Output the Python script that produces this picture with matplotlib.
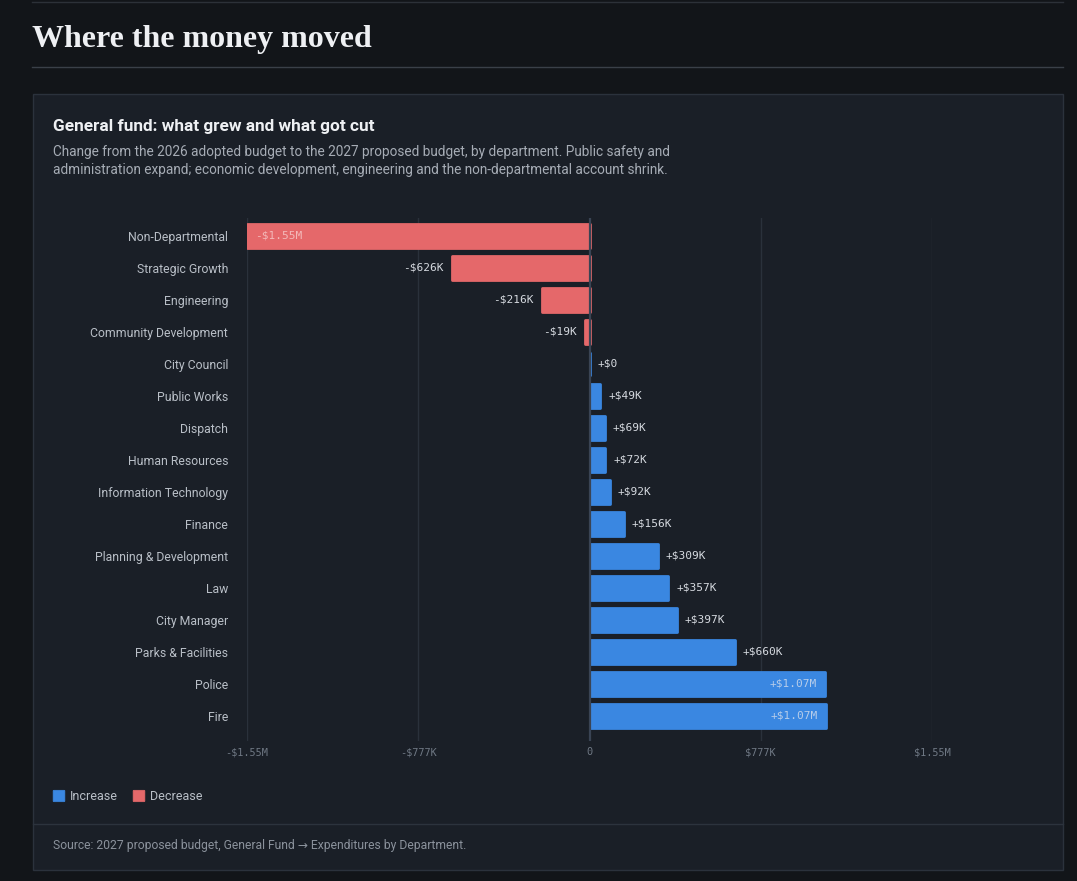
import matplotlib
matplotlib.use("Agg")
import matplotlib.pyplot as plt
from matplotlib.patches import FancyBboxPatch, Rectangle
from matplotlib.lines import Line2D

# ---------------- data ----------------
departments = [
    "Non-Departmental", "Strategic Growth", "Engineering", "Community Development",
    "City Council", "Public Works", "Dispatch", "Human Resources",
    "Information Technology", "Finance", "Planning & Development", "Law",
    "City Manager", "Parks & Facilities", "Police", "Fire",
]
changes = [
    -1554000, -626000, -216000, -19000,
    0, 49000, 69000, 72000,
    92000, 156000, 309000, 357000,
    397000, 660000, 1068000, 1072000,
]
value_labels = [
    "-$1.55M", "-$626K", "-$216K", "-$19K",
    "+$0", "+$49K", "+$69K", "+$72K",
    "+$92K", "+$156K", "+$309K", "+$357K",
    "+$397K", "+$660K", "+$1.07M", "+$1.07M",
]
tick_values = [-1554000, -777000, 0, 777000, 1554000]
tick_labels = ["-$1.55M", "-$777K", "0", "$777K", "$1.55M"]
legend_labels = ["Increase", "Decrease"]

# ---------------- style ----------------
W, H = 1077, 881
PAGE_BG = "#121519"
CARD_BG = "#1a1f27"
CARD_EDGE = "#2b323c"
BLUE = "#3a87e1"
RED = "#e5686a"
GRID = "#2a313b"
ZERO = "#3a4454"
SANS = ["Roboto", "DejaVu Sans"]
MONO = ["DejaVu Sans Mono"]

fig = plt.figure(figsize=(W / 100, H / 100), dpi=100)
fig.patch.set_facecolor(PAGE_BG)


def fx(px):
    return px / W


def fy(py):
    return 1 - py / H


# top rule and title rule
fig.add_artist(Line2D([fx(32), fx(1063)], [fy(1.5), fy(1.5)], color="#2c3138", lw=1, zorder=-2))
fig.text(fx(32), fy(47), "Where the money moved", family=["Liberation Serif"],
         fontweight="bold", fontsize=23, color="#eef0f3", va="baseline", ha="left")
fig.add_artist(Line2D([fx(32), fx(1063)], [fy(67), fy(67)], color="#3a4048", lw=1, zorder=-2))

# card
card = Rectangle((fx(32.5), fy(870)), fx(1063) - fx(32.5), fy(94.5) - fy(870),
                 transform=fig.transFigure, facecolor=CARD_BG, edgecolor=CARD_EDGE, lw=1,
                 zorder=-5)
fig.add_artist(card)

fig.text(fx(53), fy(126), "General fund: what grew and what got cut", family=SANS,
         fontweight="bold", fontsize=12.4, color="#eef0f3", va="center", ha="left")
fig.text(fx(53), fy(152), "Change from the 2026 adopted budget to the 2027 proposed budget, by department. Public safety and",
         family=SANS, fontsize=9.85, color="#a6acb5", va="center", ha="left")
fig.text(fx(53), fy(170), "administration expand; economic development, engineering and the non-departmental account shrink.",
         family=SANS, fontsize=9.85, color="#a6acb5", va="center", ha="left")

# ---------------- axes ----------------
ax_left, ax_right, ax_top, ax_bot = 247, 932, 218, 741
ax = fig.add_axes([fx(ax_left), fy(ax_bot), fx(ax_right) - fx(ax_left), fy(ax_top) - fy(ax_bot)])
ax.set_facecolor("none")
n = len(departments)
ypos = list(range(n))
ax.set_xlim(-1554000, 1554000)
ax.set_ylim(n - 1 + 25 / 32, -18 / 32)

for t in tick_values:
    if t != 0:
        ax.axvline(t, color=GRID, lw=1, zorder=0)

colors = [BLUE if v >= 0 else RED for v in changes]
bars = ax.barh(ypos, changes, height=0.74, color=colors, edgecolor=colors,
               linewidth=2.0, zorder=2)
for b in bars:
    b.set_joinstyle("round")

ax.axvline(0, color=ZERO, lw=1.6, zorder=3)

# value labels
px_per_unit = (ax_right - ax_left) / (2 * 1554000)
off = 8 / px_per_unit
for y, v, lab in zip(ypos, changes, value_labels):
    inside = abs(v) > 0.6 * 1554000
    if v >= 0:
        if inside:
            ax.text(v - off, y, lab, ha="right", va="center", family=MONO, fontsize=8,
                    color="#b7cdea", zorder=4)
        else:
            ax.text(v + off, y, lab, ha="left", va="center", family=MONO, fontsize=8,
                    color="#d6dae0", zorder=4)
    else:
        if inside:
            ax.text(v + off, y, lab, ha="left", va="center", family=MONO, fontsize=8,
                    color="#f3b9b9", zorder=4)
        else:
            ax.text(v - off, y, lab, ha="right", va="center", family=MONO, fontsize=8,
                    color="#d6dae0", zorder=4)

ax.set_yticks(ypos)
ax.set_yticklabels(departments, family=SANS, fontsize=8.8, color="#b9bfc7")
ax.set_xticks(tick_values)
ax.set_xticklabels(tick_labels, family=MONO, fontsize=7.4, color="#6f7884")
ax.tick_params(axis="both", length=0)
ax.tick_params(axis="y", pad=13.5)
ax.tick_params(axis="x", pad=4.5)
for s in ax.spines.values():
    s.set_visible(False)

# legend
legend_items = [(53, BLUE, legend_labels[0], 69.5), (133, RED, legend_labels[1], 150)]
for x0, c, lab, tx in legend_items:
    sq = FancyBboxPatch((fx(x0 + 1), fy(801)), fx(10), fy(0) - fy(10),
                        boxstyle="round,pad=0.0008", transform=fig.transFigure,
                        facecolor=c, edgecolor=c, lw=0.5)
    fig.add_artist(sq)
    fig.text(fx(tx), fy(796), lab, family=SANS, fontsize=9, color="#b9bfc7",
             va="center", ha="left")

# footer
fig.add_artist(Line2D([fx(33), fx(1063)], [fy(824), fy(824)], color="#2c333d", lw=1))
fig.text(fx(53), fy(845), "Source: 2027 proposed budget, General Fund \u2192 Expenditures by Department.",
         family=SANS, fontsize=8.7, color="#8b929c", va="center", ha="left")

fig.savefig("out.png", dpi=100, facecolor=PAGE_BG)
